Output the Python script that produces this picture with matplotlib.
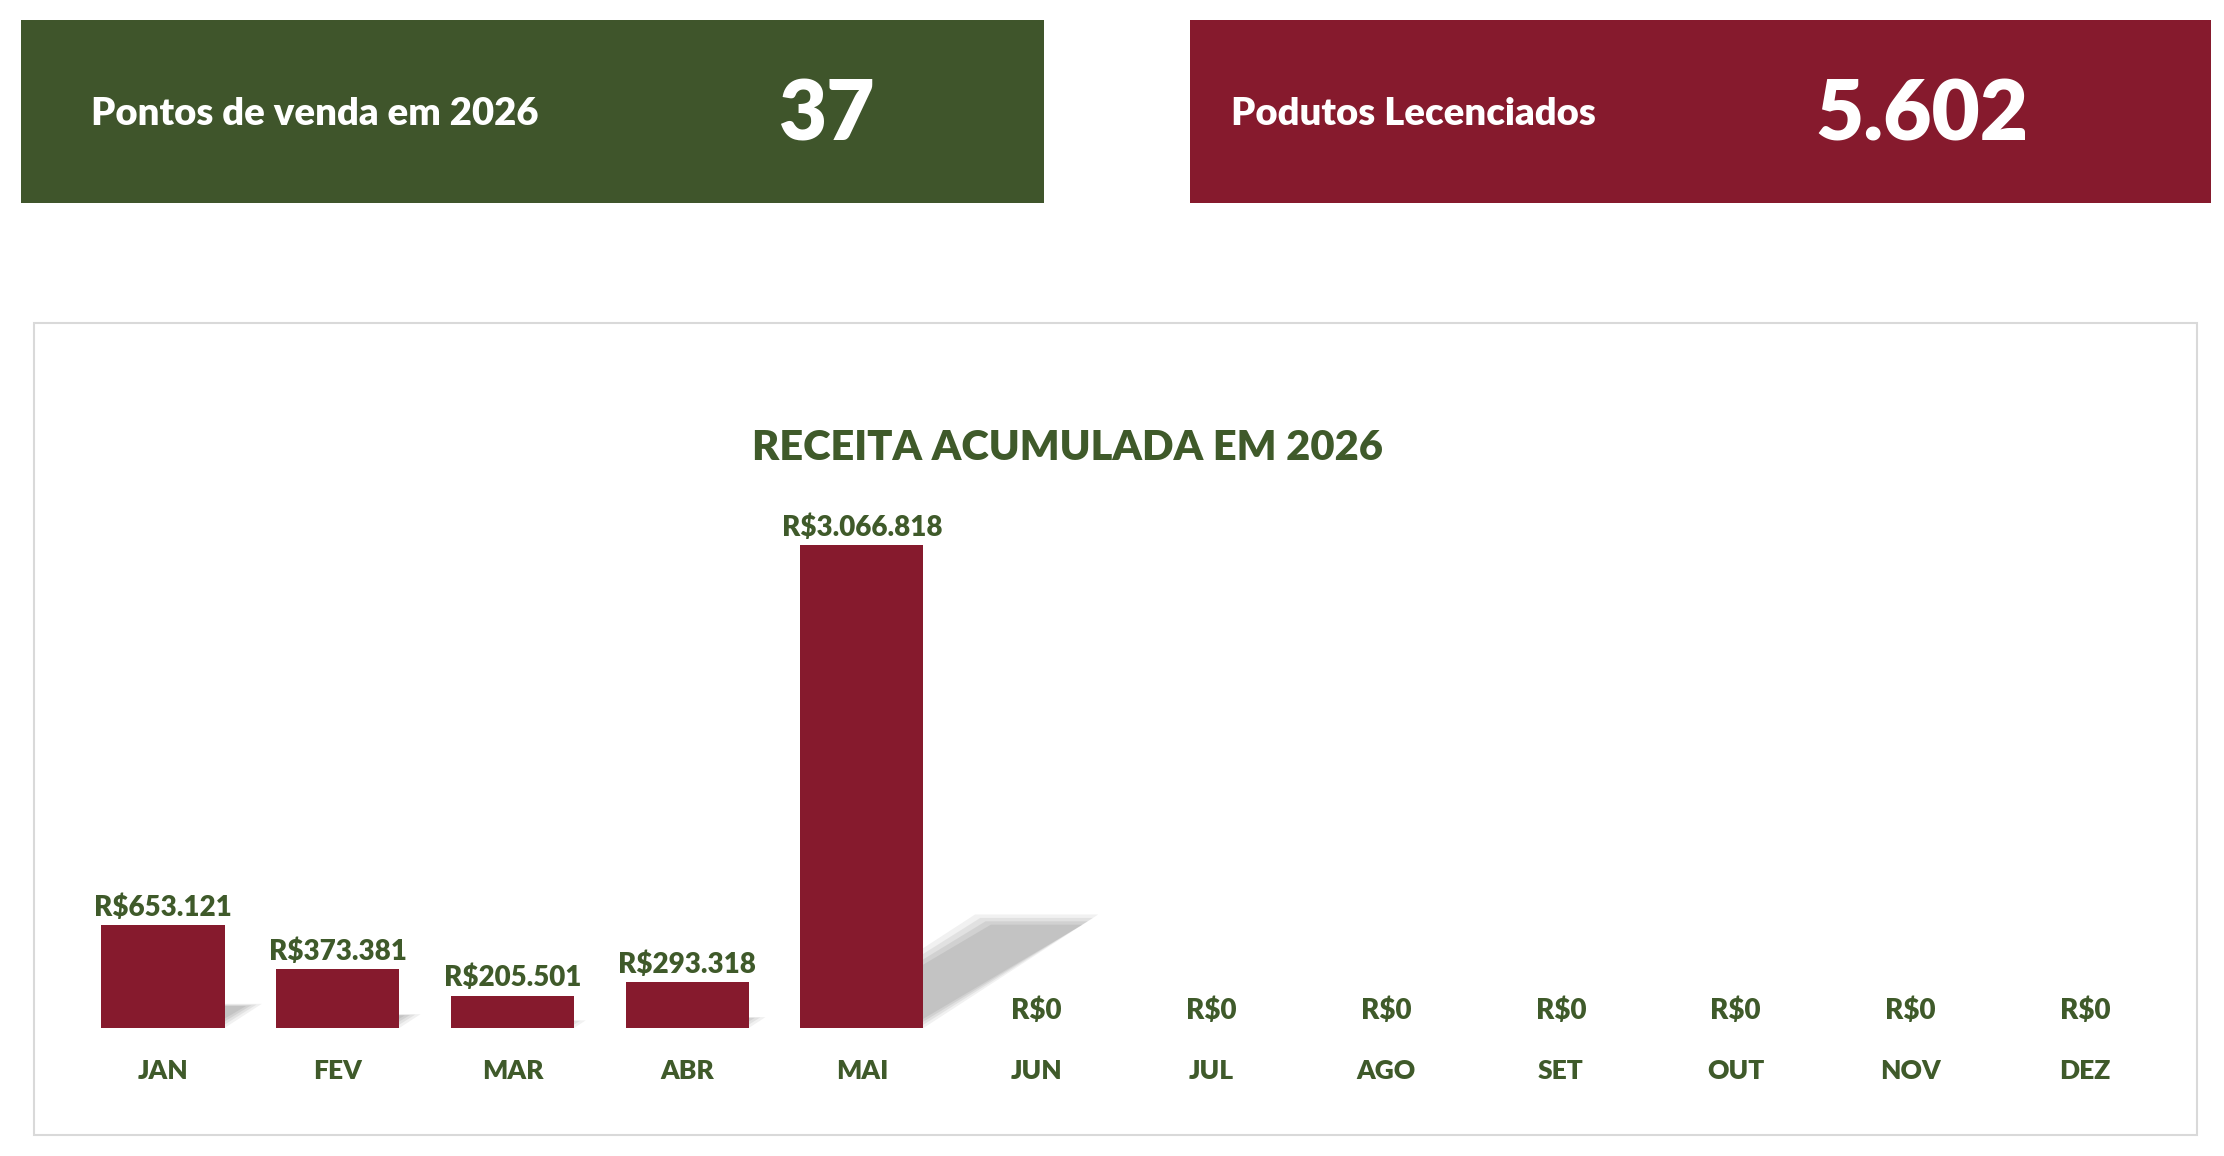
import matplotlib
matplotlib.use("Agg")
import matplotlib.pyplot as plt
from matplotlib.patches import Rectangle, Polygon

plt.rcParams['font.family'] = ['Lato', 'DejaVu Sans']
plt.rcParams['font.weight'] = 'heavy'

# dados
meses = ['JAN', 'FEV', 'MAR', 'ABR', 'MAI', 'JUN', 'JUL', 'AGO', 'SET', 'OUT', 'NOV', 'DEZ']
receita = [653121, 373381, 205501, 293318, 3066818, 0, 0, 0, 0, 0, 0, 0]
kpi_titulos = ['Pontos de venda em 2026', 'Podutos Lecenciados']
kpi_valores = ['37', '5.602']

VERDE = '#3f552b'
VINHO = '#861a2d'
TEXTO = '#3f5a2a'

W, H = 2224, 1156
fig = plt.figure(figsize=(W / 100, H / 100), dpi=100)
fig.patch.set_facecolor('white')

def px(x0, y0, x1, y1):
    # caixa em pixels (origem no topo) -> fração da figura
    return [x0 / W, 1 - y1 / H, (x1 - x0) / W, (y1 - y0) / H]

# cartões de KPI
cards = [(21, 1044, VERDE, 91, 826), (1190, 2211, VINHO, 1231, 1922)]
for (x0, x1, cor, xt, xv), titulo, valor in zip(cards, kpi_titulos, kpi_valores):
    fig.patches.append(Rectangle((x0 / W, 1 - 203 / H), (x1 - x0) / W, 183 / H,
                                 transform=fig.transFigure, facecolor=cor,
                                 edgecolor='none', zorder=0))
    fig.text(xt / W, 1 - 114 / H, titulo, color='white', fontsize=27.5,
             ha='left', va='center')
    fig.text(xv / W, 1 - 116 / H, valor, color='white', fontsize=60,
             ha='center', va='center')

# moldura do gráfico
fig.patches.append(Rectangle((34 / W, 1 - 1135 / H), (2197 - 34) / W, (1135 - 323) / H,
                             transform=fig.transFigure, facecolor='white',
                             edgecolor='#d9d9d9', linewidth=1.5, zorder=0))

fig.text(1068 / W, 1 - 448 / H, 'RECEITA ACUMULADA EM 2026', color=TEXTO,
         fontsize=30, ha='center', va='center')

ymax = 3800000
top_px = 1028 - ymax / max(receita) * 483
ax = fig.add_axes(px(75.6, top_px, 2172.4, 1028))
ax.set_zorder(2)
ax.set_xlim(-0.5, 11.5)
ax.set_ylim(0, ymax)
ax.patch.set_alpha(0)

x = list(range(len(meses)))
largura = 0.705

# sombra inclinada atrás das barras (camadas para simular o desfoque)
for xi, v in zip(x, receita):
    if v <= 0:
        continue
    dx = v / max(receita) * 1.0
    dy = v * 0.235
    for k, a in [(0, 0.12), (0.03, 0.15), (0.06, 0.18), (0.09, 0.2)]:
        pts = [(xi - largura / 2 + k, 0), (xi + largura / 2 - k, 0),
               (xi + largura / 2 + dx - k, dy * (1 - k)),
               (xi - largura / 2 + dx + k, dy * (1 - k))]
        ax.add_patch(Polygon(pts, closed=True, facecolor='#8c8c8c',
                             edgecolor='none', alpha=a, zorder=1))

ax.bar(x, receita, width=largura, color=VINHO, zorder=2)

for xi, v in zip(x, receita):
    rotulo = 'R$' + f'{v:,}'.replace(',', '.')
    ax.annotate(rotulo, (xi, v), xytext=(0, 3), textcoords='offset points',
                ha='center', va='bottom', color=TEXTO, fontsize=20)

ax.set_xticks(x)
ax.set_xticklabels(meses, color=TEXTO, fontsize=19)
ax.tick_params(axis='x', length=0, pad=22)
ax.set_yticks([])
for s in ax.spines.values():
    s.set_visible(False)

fig.savefig('out.png', dpi=100)
